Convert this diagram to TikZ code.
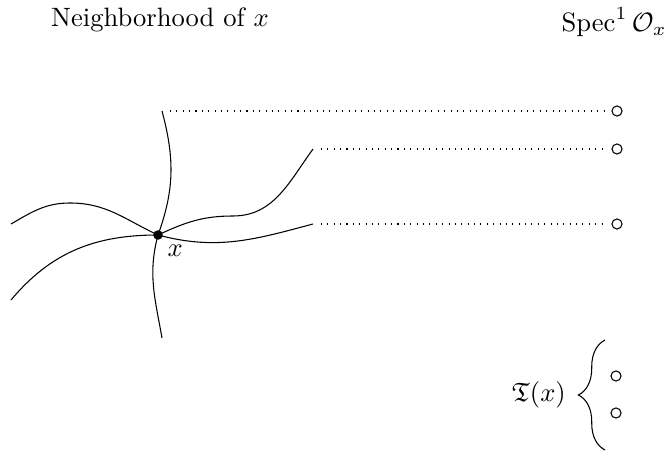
\documentclass[tikz,border=0pt]{standalone}
\usepackage{amsmath,amssymb}
\usetikzlibrary{decorations.pathreplacing}

\begin{document}
\begin{tikzpicture}[
    x=0.3764pt, y=0.3764pt,
    guide/.style={dotted, shorten <=3pt, shorten >=1.5pt},
    dotpt/.style={circle, fill, inner sep=0pt, minimum size=3.6pt},
    hole/.style={circle, draw, inner sep=0pt, minimum size=3.8pt},
    curlybrace/.style={decorate, decoration={brace, amplitude=10pt}}
]
\useasboundingbox (0,0) rectangle (667,-455);

% Titles
\node (nbhd) at (160,-20) {Neighborhood of $x$};
\node (spec) at (614,-22) {$\operatorname{Spec}^1\mathcal{O}_x$};

% The point x
\node[dotpt, label={[inner sep=2pt]below right:$x$}] (x) at (158,-235) {};

% Ends of the branches
\coordinate (vtop) at (162,-111);
\coordinate (vbot) at (162,-338);
\coordinate (aleft) at (11,-224);
\coordinate (apeak) at (70,-203);
\coordinate (aflat) at (233,-216);
\coordinate (aright) at (313,-149);
\coordinate (bleft) at (11,-300);
\coordinate (bright) at (313,-224);

% Points of Spec^1
\node[hole] (p1) at (617,-111) {};
\node[hole] (p2) at (617,-149) {};
\node[hole] (p3) at (617,-224) {};
\node[hole] (q1) at (616,-376) {};
\node[hole] (q2) at (616,-413) {};

% Branches through x
\draw (vtop) to[out=-75,in=70] (x.center) to[out=-105,in=100] (vbot);
\draw (aleft) to[out=30,in=180] (apeak) to[out=0,in=155] (x.center)
    to[out=25,in=180] (aflat) to[out=0,in=-126] (aright);
\draw (bleft) to[out=50,in=180] (x.center) to[out=-15,in=195] (bright);

% Dotted guides
\draw[guide] (vtop) -- (p1);
\draw[guide] (aright) -- (p2);
\draw[guide] (bright) -- (p3);

% Brace and T(x)
\coordinate (btop) at (605,-340);
\coordinate (bbot) at (605,-450);
\draw[curlybrace] (bbot) -- (btop);
\node (tx) at (539,-395) {$\mathfrak{T}(x)$};

\end{tikzpicture}
\end{document}
